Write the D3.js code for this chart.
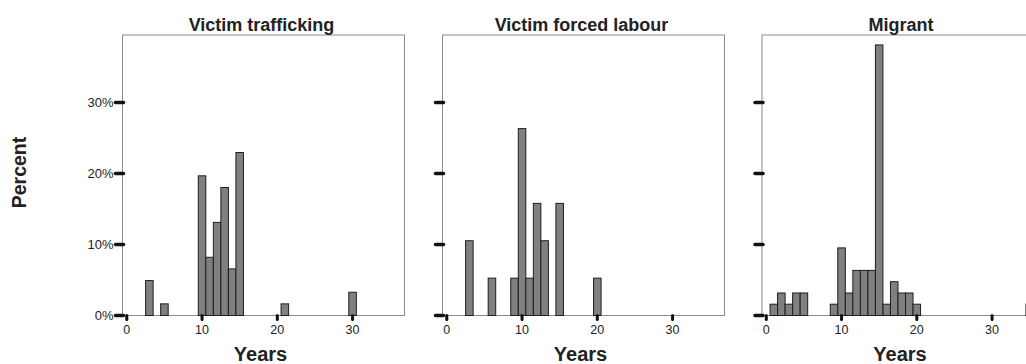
<!DOCTYPE html>
<html>
<head>
<meta charset="utf-8">
<script src="https://cdn.jsdelivr.net/npm/d3@7"></script>
<style>
  html, body { margin: 0; padding: 0; background: #fff; }
  svg { display: block; }
  text { font-family: "Liberation Sans", Arial, sans-serif; fill: #222; }
</style>
</head>
<body>
<svg id="chart" width="1026" height="364"></svg>
<script>
// Age at event (years) and share of cases (%) for each group
const panelTitles = ["Victim trafficking", "Victim forced labour", "Migrant"];

const traffickingYears = [3, 5, 10, 11, 12, 13, 14, 15, 21, 30];
const traffickingPct   = [4.92, 1.64, 19.67, 8.20, 13.11, 18.03, 6.56, 22.95, 1.64, 3.28];

const forcedLabourYears = [3, 6, 9, 10, 11, 12, 13, 15, 20];
const forcedLabourPct   = [10.53, 5.26, 5.26, 26.32, 5.26, 15.79, 10.53, 15.79, 5.26];

const migrantYears = [1, 2, 3, 4, 5, 9, 10, 11, 12, 13, 14, 15, 16, 17, 18, 19, 20, 35];
const migrantPct   = [1.59, 3.17, 1.59, 3.17, 3.17, 1.59, 9.52, 3.17, 6.35, 6.35, 6.35, 38.10, 1.59, 4.76, 3.17, 3.17, 1.59, 1.59];

const xTickValues = [0, 10, 20, 30];
const yTickValues = [0, 10, 20, 30];
const yTickLabels = ["0%", "10%", "20%", "30%"];

const panels = [
  { title: panelTitles[0], years: traffickingYears, pct: traffickingPct },
  { title: panelTitles[1], years: forcedLabourYears, pct: forcedLabourPct },
  { title: panelTitles[2], years: migrantYears, pct: migrantPct }
];

const svg = d3.select("#chart");

const panelLefts = [122.5, 442.5, 762];
const panelWidth = 282;
const plotTop = 35, plotBottom = 315.5;

const y = d3.scaleLinear().domain([0, 39.5]).range([plotBottom, plotTop]);

panels.forEach((p, i) => {
  const left = panelLefts[i];
  const x = d3.scaleLinear().domain([-0.57, 36.9]).range([left, left + panelWidth]);
  const g = svg.append("g");

  // plot frame
  g.append("rect")
    .attr("x", left).attr("y", plotTop)
    .attr("width", panelWidth).attr("height", plotBottom - plotTop)
    .attr("fill", "none").attr("stroke", "#8a8a8a").attr("stroke-width", 1);

  // histogram bars, one-year bins centred on each age
  g.selectAll("rect.bar")
    .data(p.years.map((yr, k) => ({ yr, v: p.pct[k] })))
    .join("rect")
    .attr("class", "bar")
    .attr("x", d => x(d.yr - 0.5))
    .attr("width", d => x(d.yr + 0.5) - x(d.yr - 0.5))
    .attr("y", d => y(d.v))
    .attr("height", d => y(0) - y(d.v))
    .attr("fill", "#808080")
    .attr("stroke", "#1e1e1e")
    .attr("stroke-width", 1);

  // y tick marks
  g.selectAll("line.ytick")
    .data(yTickValues)
    .join("line")
    .attr("class", "ytick")
    .attr("x1", left - 7).attr("x2", left + 1)
    .attr("y1", d => y(d)).attr("y2", d => y(d))
    .attr("stroke", "#111").attr("stroke-width", 3.5)
    .attr("stroke-linecap", "round");

  // x tick marks
  g.selectAll("line.xtick")
    .data(xTickValues)
    .join("line")
    .attr("class", "xtick")
    .attr("x1", d => x(d)).attr("x2", d => x(d))
    .attr("y1", plotBottom).attr("y2", plotBottom + 4)
    .attr("stroke", "#111").attr("stroke-width", 3)
    .attr("stroke-linecap", "round");

  // x tick labels
  g.selectAll("text.xlab")
    .data(xTickValues)
    .join("text")
    .attr("class", "xlab")
    .attr("x", d => x(d)).attr("y", 333.5)
    .attr("text-anchor", "middle")
    .attr("font-size", 12.5)
    .attr("fill", "#333")
    .text(d => d);

  // y tick labels on the first panel only
  if (i === 0) {
    g.selectAll("text.ylab")
      .data(yTickValues)
      .join("text")
      .attr("class", "ylab")
      .attr("x", left - 9).attr("y", d => y(d) + 4.5)
      .attr("text-anchor", "end")
      .attr("font-size", 13)
      .attr("fill", "#333")
      .text((d, k) => yTickLabels[k]);
  }

  // panel title
  g.append("text")
    .attr("x", left + panelWidth / 2 - 2).attr("y", 31)
    .attr("text-anchor", "middle")
    .attr("font-size", 18)
    .attr("font-weight", "bold")
    .text(p.title);

  // x axis title
  g.append("text")
    .attr("x", left + panelWidth / 2 - 3).attr("y", 361)
    .attr("text-anchor", "middle")
    .attr("font-size", 20)
    .attr("font-weight", "bold")
    .text("Years");
});

// shared y axis title
svg.append("text")
  .attr("transform", "translate(25.5,172.5) rotate(-90)")
  .attr("text-anchor", "middle")
  .attr("font-size", 19.5)
  .attr("font-weight", "bold")
  .text("Percent");
</script>
</body>
</html>
